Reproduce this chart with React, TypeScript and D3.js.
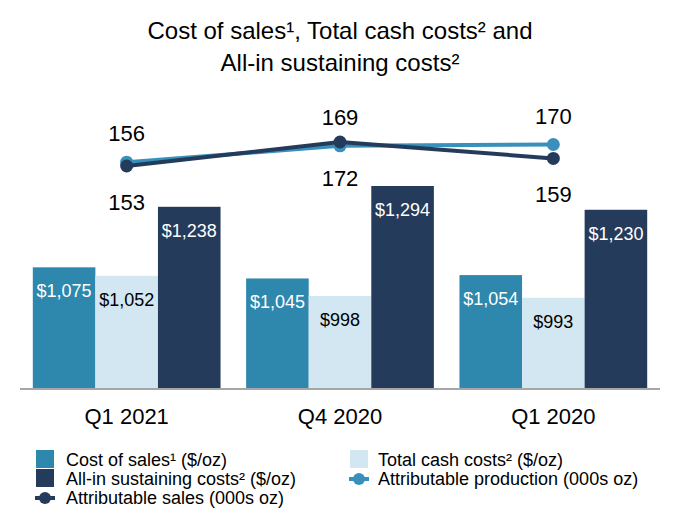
import React from "react";
import * as d3 from "d3";

const categories = ["Q1 2021", "Q4 2020", "Q1 2020"];
const costOfSales = [1075, 1045, 1054];
const totalCashCosts = [1052, 998, 993];
const allInSustaining = [1238, 1294, 1230];
const production = [156, 169, 170];
const sales = [153, 172, 159];

const C_COST = "#2e87ad";
const C_CASH = "#d3e7f2";
const C_AISC = "#253b5b";
const C_PROD = "#3890bb";
const C_SALES = "#253b5b";
const FONT = "'Liberation Sans', Arial, sans-serif";

export default function App() {
  const W = 680, H = 520;
  const baseY = 388;
  const x = d3.scaleBand<string>().domain(categories).range([20, 660]).paddingInner(0.12).paddingOuter(0.06);
  const yBar = d3.scaleLinear().domain([750, 1294]).range([baseY, 186]);
  const yLine = d3.scaleLinear().domain([153, 172]).range([166, 142]);
  const sub = d3.scaleBand<number>().domain([0, 1, 2]).range([0, x.bandwidth()]);
  const cx = (c: string) => (x(c) as number) + x.bandwidth() / 2;

  const series = [
    { vals: costOfSales, color: C_COST, text: "#fff" },
    { vals: totalCashCosts, color: C_CASH, text: "#000" },
    { vals: allInSustaining, color: C_AISC, text: "#fff" },
  ];
  const fmt = (v: number) => "$" + d3.format(",")(v);
  const line = d3.line<number>().x((_, i) => cx(categories[i])).y((v) => yLine(v));

  return (
    <svg width={W} height={H} style={{ position: "absolute", left: 0, top: 0, background: "#fff" }} fontFamily={FONT}>
      <text x={340} y={39} textAnchor="middle" fontSize={24} fill="#000">Cost of sales¹, Total cash costs² and</text>
      <text x={340} y={71} textAnchor="middle" fontSize={24} fill="#000">All-in sustaining costs²</text>

      {series.map((s, si) =>
        categories.map((c, ci) => {
          const bx = (x(c) as number) + (sub(si) as number);
          const top = yBar(s.vals[ci]);
          return (
            <g key={si + "-" + ci}>
              <rect x={bx} y={top} width={sub.bandwidth()} height={baseY - top} fill={s.color} />
              <text x={bx + sub.bandwidth() / 2} y={top + 30} textAnchor="middle" fontSize={18} fill={s.text}>{fmt(s.vals[ci])}</text>
            </g>
          );
        })
      )}

      <line x1={20} x2={660} y1={baseY + 1} y2={baseY + 1} stroke="#a6a6a6" strokeWidth={2} />
      {categories.map((c) => (
        <text key={c} x={cx(c)} y={424} textAnchor="middle" fontSize={22} fill="#000">{c}</text>
      ))}

      <path d={line(production) || ""} fill="none" stroke={C_PROD} strokeWidth={4} />
      {production.map((v, i) => (
        <circle key={"p" + i} cx={cx(categories[i])} cy={yLine(v)} r={6.5} fill={C_PROD} />
      ))}
      <path d={line(sales) || ""} fill="none" stroke={C_SALES} strokeWidth={4} />
      {sales.map((v, i) => (
        <circle key={"s" + i} cx={cx(categories[i])} cy={yLine(v)} r={6.5} fill={C_SALES} />
      ))}
      {production.map((v, i) => (
        <text key={"pl" + i} x={cx(categories[i])} y={yLine(v) - 21} textAnchor="middle" fontSize={22} fill="#000">{v}</text>
      ))}
      {sales.map((v, i) => (
        <text key={"sl" + i} x={cx(categories[i])} y={yLine(v) + 44} textAnchor="middle" fontSize={22} fill="#000">{v}</text>
      ))}

      {/* Legend */}
      <g fontSize={18} fill="#000">
        <rect x={36} y={450} width={18} height={18} fill={C_COST} />
        <text x={66} y={466}>Cost of sales¹ ($/oz)</text>
        <rect x={350} y={450} width={18} height={18} fill={C_CASH} />
        <text x={378} y={466}>Total cash costs² ($/oz)</text>
        <rect x={36} y={469} width={18} height={18} fill={C_AISC} />
        <text x={66} y={485}>All-in sustaining costs² ($/oz)</text>
        <line x1={349} x2={369} y1={479} y2={479} stroke={C_PROD} strokeWidth={4} />
        <circle cx={359} cy={479} r={6} fill={C_PROD} />
        <text x={378} y={485}>Attributable production (000s oz)</text>
        <line x1={35} x2={55} y1={498} y2={498} stroke={C_SALES} strokeWidth={4} />
        <circle cx={45} cy={498} r={6} fill={C_SALES} />
        <text x={66} y={504}>Attributable sales (000s oz)</text>
      </g>
    </svg>
  );
}
